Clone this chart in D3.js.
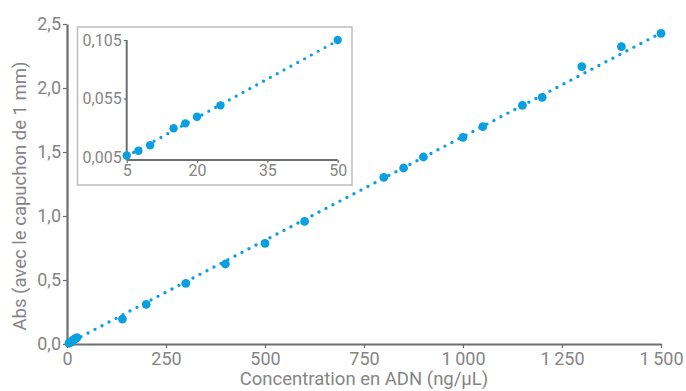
<!DOCTYPE html>
<html>
<head>
<meta charset="utf-8">
<script src="https://cdn.jsdelivr.net/npm/d3@7"></script>
<style>
  body { margin: 0; background: #fff; }
  text { font-family: Roboto, "Noto Sans", sans-serif; }
</style>
</head>
<body>
<svg id="chart"></svg>
<script>
// main chart data (ng/uL vs Abs)
const concentrations = [5, 7.5, 10, 15, 17.5, 20, 25, 140, 200, 300, 400, 500, 600, 800, 850, 900, 1000, 1050, 1150, 1200, 1300, 1400, 1500];
const absorbances = [0.006, 0.010, 0.015, 0.030, 0.034, 0.040, 0.049, 0.195, 0.31, 0.474, 0.625, 0.786, 0.958, 1.302, 1.375, 1.461, 1.615, 1.698, 1.865, 1.927, 2.167, 2.323, 2.427];
const trendX = [0, 1500];
const trendY = [0, 2.43];
const xTicks = [0, 250, 500, 750, 1000, 1250, 1500];
const yTicks = [0, 0.5, 1.0, 1.5, 2.0, 2.5];

// inset (low range)
const insetConc = [5, 7.5, 10, 15, 17.5, 20, 25, 50];
const insetAbs = [0.0063, 0.0104, 0.0151, 0.0296, 0.0338, 0.0395, 0.0492, 0.105];
const insetTrendX = [5, 50];
const insetTrendY = [0.0058, 0.1045];
const insetXTicks = [5, 20, 35, 50];
const insetYTicks = [0.005, 0.055, 0.105];

const width = 686, height = 391;
const blue = "#0a9fe0";
const axisColor = "#6d6e71";
const textColor = "#858585";

const svg = d3.select("#chart").attr("width", width).attr("height", height);

const frNum = (d, digits) => d.toFixed(digits).replace(".", ",");
const thousands = d => d >= 1000 ? Math.floor(d / 1000) + "\u2009" + String(d % 1000).padStart(3, "0") : String(d);

// main scales
const x = d3.scaleLinear().domain([0, 1500]).range([67, 661]);
const y = d3.scaleLinear().domain([0, 2.5]).range([344, 24]);

const xAxis = svg.append("g")
    .attr("transform", `translate(0,${y(0)})`)
    .call(d3.axisBottom(x).tickValues(xTicks).tickSize(4).tickSizeOuter(0).tickFormat(thousands).tickPadding(4));
const yAxis = svg.append("g")
    .attr("transform", `translate(${x(0)},0)`)
    .call(d3.axisLeft(y).tickValues(yTicks).tickSize(4).tickSizeOuter(0).tickFormat(d => frNum(d, 1)).tickPadding(2));

[xAxis, yAxis].forEach(g => {
    g.select(".domain").attr("stroke", axisColor).attr("stroke-width", 2.2);
    g.selectAll(".tick line").attr("stroke", axisColor).attr("stroke-width", 1.2);
    g.selectAll(".tick text").attr("fill", textColor).style("font-size", "18px");
});

svg.append("text")
    .attr("x", 364).attr("y", 385)
    .attr("text-anchor", "middle")
    .attr("fill", textColor)
    .style("font-size", "18.5px")
    .text("Concentration en ADN (ng/\u00b5L)");

svg.append("text")
    .attr("transform", "translate(26,196) rotate(-90)")
    .attr("text-anchor", "middle")
    .attr("fill", textColor)
    .style("font-size", "18.5px")
    .text("Abs (avec le capuchon de 1 mm)");

// dotted trend line
const line = d3.line().x(d => x(d[0])).y(d => y(d[1]));
svg.append("path")
    .attr("d", line(d3.zip(trendX, trendY)))
    .attr("fill", "none")
    .attr("stroke", blue)
    .attr("stroke-width", 3.4)
    .attr("stroke-linecap", "round")
    .attr("stroke-dasharray", "0 7.9");

svg.append("g").selectAll("circle")
    .data(d3.zip(concentrations, absorbances))
    .join("circle")
    .attr("cx", d => x(d[0]))
    .attr("cy", d => y(d[1]))
    .attr("r", 4.4)
    .attr("fill", blue);

// inset
const inset = svg.append("g");
inset.append("rect")
    .attr("x", 77.5).attr("y", 27)
    .attr("width", 274.5).attr("height", 158)
    .attr("fill", "#fff")
    .attr("stroke", "#bdbdbd")
    .attr("stroke-width", 1.5);

const ix = d3.scaleLinear().domain([5, 50]).range([126.7, 337.7]);
const iy = d3.scaleLinear().domain([0.0025, 0.105]).range([160, 40]);

const ixAxis = inset.append("g")
    .attr("transform", "translate(0,160)")
    .call(d3.axisBottom(ix).tickValues(insetXTicks).tickSize(3).tickSizeOuter(0).tickPadding(2));
const iyAxis = inset.append("g")
    .attr("transform", `translate(${ix(5)},0)`)
    .call(d3.axisLeft(iy).tickValues(insetYTicks).tickSize(3).tickSizeOuter(0).tickFormat(d => frNum(d, 3)).tickPadding(2));
ixAxis.select(".domain").attr("d", `M${ix(5)},0H${ix(50)}`);
iyAxis.select(".domain").attr("d", `M0,${iy(0.105)}V160`);

[ixAxis, iyAxis].forEach(g => {
    g.select(".domain").attr("stroke", axisColor).attr("stroke-width", 2);
    g.selectAll(".tick line").attr("stroke", axisColor).attr("stroke-width", 1.2);
    g.selectAll(".tick text").attr("fill", textColor).style("font-size", "16px");
});

const iline = d3.line().x(d => ix(d[0])).y(d => iy(d[1]));
inset.append("path")
    .attr("d", iline(d3.zip(insetTrendX, insetTrendY)))
    .attr("fill", "none")
    .attr("stroke", blue)
    .attr("stroke-width", 3.2)
    .attr("stroke-linecap", "round")
    .attr("stroke-dasharray", "0 7.8");

inset.append("g").selectAll("circle")
    .data(d3.zip(insetConc, insetAbs))
    .join("circle")
    .attr("cx", d => ix(d[0]))
    .attr("cy", d => iy(d[1]))
    .attr("r", 4.2)
    .attr("fill", blue);
</script>
</body>
</html>
